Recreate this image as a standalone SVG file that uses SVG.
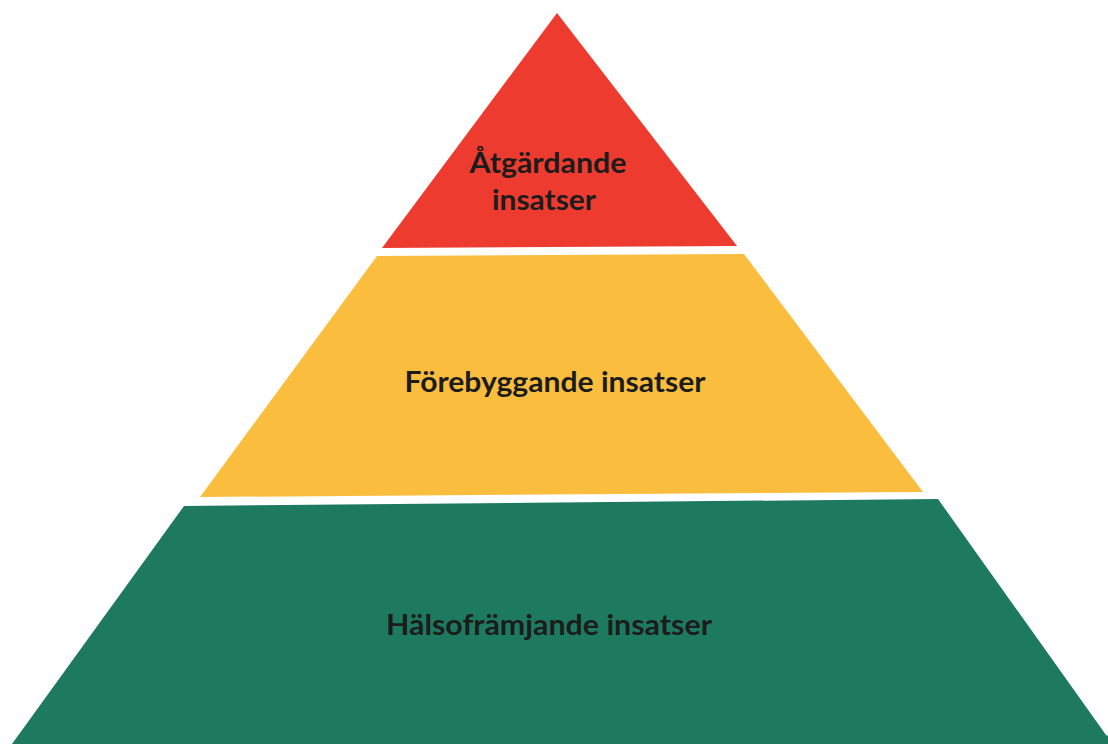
<svg xmlns="http://www.w3.org/2000/svg" width="1108" height="744" viewBox="0 0 1108 744">
  <style>
    .lbl { font-family: Lato, "Open Sans", "Liberation Sans", sans-serif; font-weight: bold; fill: #1c1c1c; text-anchor: middle; }
  </style>
  <rect x="0" y="0" width="1108" height="744" fill="#ffffff"/>
  <g id="top">
    <polygon points="557,13 382,248 737,246" fill="#EE3B2F"/>
    <text class="lbl" x="548" y="173" font-size="28" textLength="157" lengthAdjust="spacingAndGlyphs">Åtgärdande</text>
    <text class="lbl" x="544" y="210" font-size="28" textLength="104" lengthAdjust="spacingAndGlyphs">insatser</text>
  </g>
  <g id="middle">
    <polygon points="377,256 744,254 923,492 200,497" fill="#FBBD3E"/>
    <text class="lbl" x="555" y="392" font-size="28" textLength="301" lengthAdjust="spacingAndGlyphs">Förebyggande insatser</text>
  </g>
  <g id="bottom">
    <polygon points="184,506 938,499 1106,735 1108,736 1108,744 12,744" fill="#1D7A5F"/>
    <text class="lbl" x="549" y="635" font-size="28" textLength="326" lengthAdjust="spacingAndGlyphs">Hälsofrämjande insatser</text>
  </g>
  <g id="connectors"/>
</svg>
